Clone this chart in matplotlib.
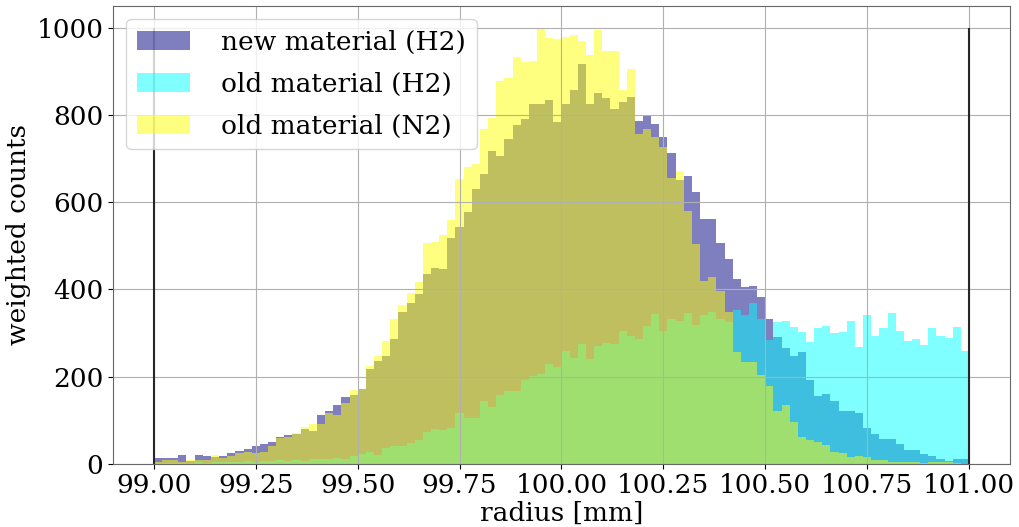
import numpy as np
import matplotlib
matplotlib.use("Agg")
import matplotlib.pyplot as plt

# histogram: 100 bins between 99 and 101 mm
r_min, r_max, n_bins = 99.0, 101.0, 100

# weighted counts per bin
new_h2 = [13, 14, 14, 21, 6, 20, 18, 15, 17, 24,
          30, 34, 40, 46, 51, 61, 65, 69, 79, 74,
          111, 120, 134, 152, 158, 172, 217, 236, 246, 287,
          347, 368, 389, 436, 448, 446, 517, 543, 578, 631,
          664, 717, 706, 745, 776, 790, 824, 824, 835, 784,
          824, 858, 917, 825, 851, 839, 813, 829, 840, 787,
          797, 780, 749, 713, 650, 660, 623, 562, 561, 507,
          469, 423, 406, 407, 382, 331, 290, 265, 248, 256,
          193, 156, 159, 143, 122, 122, 116, 83, 69, 57,
          57, 46, 31, 31, 23, 17, 11, 7, 11, 11]

old_h2 = [1, 2, 1, 2, 2, 3, 2, 3, 4, 5,
          4, 6, 5, 6, 7, 8, 6, 8, 7, 12,
          10, 10, 13, 11, 18, 23, 27, 21, 36, 40,
          40, 47, 55, 72, 79, 78, 83, 116, 106, 106,
          143, 131, 158, 166, 166, 192, 201, 205, 229, 221,
          259, 243, 275, 240, 270, 277, 275, 304, 293, 286,
          315, 344, 304, 331, 327, 346, 318, 340, 349, 331,
          326, 352, 341, 368, 331, 284, 326, 328, 313, 301,
          280, 311, 315, 299, 303, 328, 267, 340, 294, 311,
          345, 304, 282, 285, 272, 311, 292, 289, 314, 259]

old_n2 = [5, 8, 8, 5, 9, 8, 9, 19, 13, 18,
          24, 28, 24, 28, 41, 59, 61, 70, 84, 91,
          92, 116, 112, 139, 168, 172, 224, 246, 281, 332,
          364, 392, 417, 507, 509, 524, 559, 654, 681, 688,
          768, 793, 877, 885, 933, 921, 924, 1000, 977, 973,
          978, 982, 970, 937, 995, 947, 946, 856, 906, 755,
          767, 750, 727, 655, 672, 580, 503, 420, 429, 397,
          349, 256, 234, 234, 204, 179, 120, 135, 95, 61,
          55, 51, 43, 28, 24, 15, 17, 15, 9, 8,
          5, 5, 4, 3, 2, 3, 3, 4, 1, 0]

labels = ["new material (H2)", "old material (H2)", "old material (N2)"]
colors = ["navy", "cyan", "yellow"]

edges = np.linspace(r_min, r_max, n_bins + 1)
centers = 0.5 * (edges[:-1] + edges[1:])

plt.rcParams["font.family"] = "DejaVu Serif"

fig = plt.figure(figsize=(10.19, 5.27), dpi=100)
ax = fig.add_axes([0.111, 0.12, 0.88, 0.869])

for vals, lab, col in zip([new_h2, old_h2, old_n2], labels, colors):
    ax.hist(centers, bins=edges, weights=vals, histtype="stepfilled",
            color=col, alpha=0.5, label=lab)

ax.vlines([r_min, r_max], 0, 1000, colors="0.15", linewidth=1.5)

for sp in ax.spines.values():
    sp.set_color("0.4")

ax.grid(True)
ax.set_xticks(np.arange(99.0, 101.01, 0.25))
ax.set_xticklabels(["%.2f" % t for t in np.arange(99.0, 101.01, 0.25)])
ax.tick_params(labelsize=19)
ax.set_xlabel("radius [mm]", fontsize=19, labelpad=2)
ax.set_ylabel("weighted counts", fontsize=19)
ax.legend(loc="upper left", fontsize=19, handletextpad=1.2, labelspacing=0.65)

fig.savefig("out.png", dpi=100)
